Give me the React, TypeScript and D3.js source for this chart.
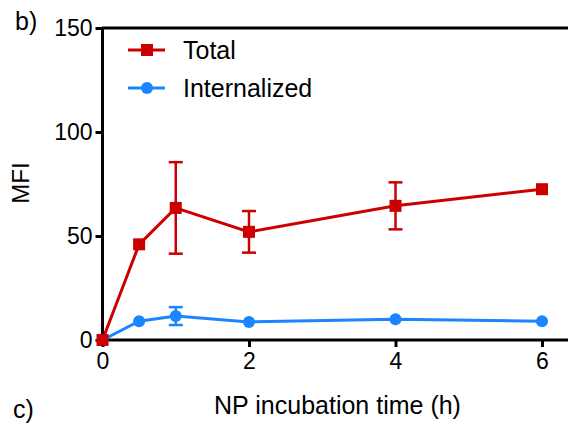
import React, { useEffect, useRef } from "react";
import * as d3 from "d3";

const times = [0, 0.5, 1, 2, 4, 6];
const totalMean = [0, 46, 63.5, 52, 64.5, 72.5];
const totalErr = [0, 0, 22, 10, 11.3, 0];
const internMean = [0, 9, 11.5, 8.7, 10, 9];
const internErr = [0, 0, 4.3, 0, 0, 0];
const xTicks = [0, 2, 4, 6];
const yTicks = [0, 50, 100, 150];

const RED = "#cc0000";
const BLUE = "#1a85ff";
const FONT = "'Liberation Sans', Arial, sans-serif";

const App = () => {
  const ref = useRef<SVGSVGElement>(null);

  useEffect(() => {
    drawChart();
  }, []);

  const drawChart = () => {
    const svg = d3.select(ref.current);
    svg.selectAll("*").remove();

    const x = d3.scaleLinear().domain([0, 6]).range([102.5, 542]);
    const y = d3.scaleLinear().domain([0, 150]).range([340, 28]);

    // top frame line
    svg.append("line")
      .attr("x1", 102).attr("x2", 568)
      .attr("y1", y(150)).attr("y2", y(150))
      .attr("stroke", "#000").attr("stroke-width", 3);

    const xAxis = svg.append("g")
      .attr("transform", `translate(0,${y(0)})`)
      .call(d3.axisBottom(x).tickValues(xTicks).tickSize(7).tickPadding(6).tickFormat(d3.format("d")));
    xAxis.select(".domain").attr("d", `M${x(0)},0H568`).attr("stroke-width", 3);

    const yAxis = svg.append("g")
      .attr("transform", `translate(${x(0)},0)`)
      .call(d3.axisLeft(y).tickValues(yTicks).tickSize(7).tickPadding(3).tickFormat(d3.format("d")));
    yAxis.select(".domain").attr("d", `M0,${y(150)}V${y(0)}`).attr("stroke-width", 3);

    [xAxis, yAxis].forEach((g) => {
      g.selectAll(".tick line").attr("stroke-width", 3);
      g.selectAll("text")
        .attr("font-family", FONT)
        .attr("font-size", 23)
        .attr("fill", "#000");
    });

    const series = [
      { mean: internMean, err: internErr, color: BLUE, shape: "circle" },
      { mean: totalMean, err: totalErr, color: RED, shape: "square" },
    ];

    series.forEach((s) => {
      const pts = times.map((t, i) => ({ t, m: s.mean[i], e: s.err[i] }));
      const line = d3.line<{ t: number; m: number }>()
        .x((d) => x(d.t))
        .y((d) => y(d.m));

      svg.append("path")
        .datum(pts)
        .attr("d", line)
        .attr("fill", "none")
        .attr("stroke", s.color)
        .attr("stroke-width", 3);

      const eb = svg.append("g").attr("stroke", s.color).attr("stroke-width", 2.5);
      pts.filter((d) => d.e > 0).forEach((d) => {
        const cx = x(d.t);
        eb.append("line").attr("x1", cx).attr("x2", cx).attr("y1", y(d.m - d.e)).attr("y2", y(d.m + d.e));
        [d.m - d.e, d.m + d.e].forEach((v) => {
          eb.append("line").attr("x1", cx - 7).attr("x2", cx + 7).attr("y1", y(v)).attr("y2", y(v));
        });
      });

      if (s.shape === "square") {
        svg.selectAll(null)
          .data(pts)
          .enter()
          .append("rect")
          .attr("x", (d) => x(d.t) - 6)
          .attr("y", (d) => y(d.m) - 6)
          .attr("width", 12)
          .attr("height", 12)
          .attr("fill", s.color);
      } else {
        svg.selectAll(null)
          .data(pts)
          .enter()
          .append("circle")
          .attr("cx", (d) => x(d.t))
          .attr("cy", (d) => y(d.m))
          .attr("r", 6)
          .attr("fill", s.color);
      }
    });

    // legend
    const legend = [
      { label: "Total", color: RED, shape: "square", yy: 50 },
      { label: "Internalized", color: BLUE, shape: "circle", yy: 88 },
    ];
    legend.forEach((l) => {
      svg.append("line")
        .attr("x1", 128).attr("x2", 165)
        .attr("y1", l.yy).attr("y2", l.yy)
        .attr("stroke", l.color).attr("stroke-width", 3);
      if (l.shape === "square") {
        svg.append("rect").attr("x", 141).attr("y", l.yy - 6).attr("width", 12).attr("height", 12).attr("fill", l.color);
      } else {
        svg.append("circle").attr("cx", 147).attr("cy", l.yy).attr("r", 6).attr("fill", l.color);
      }
      svg.append("text")
        .attr("x", 183).attr("y", l.yy + 8.5)
        .attr("font-family", FONT).attr("font-size", 25)
        .text(l.label);
    });

    svg.append("text")
      .attr("transform", `translate(29,183) rotate(-90)`)
      .attr("text-anchor", "middle")
      .attr("font-family", FONT).attr("font-size", 24)
      .text("MFI");

    svg.append("text")
      .attr("x", 337.5).attr("y", 414)
      .attr("text-anchor", "middle")
      .attr("font-family", FONT).attr("font-size", 25)
      .text("NP incubation time (h)");

    svg.append("text")
      .attr("x", 15).attr("y", 30)
      .attr("font-family", FONT).attr("font-size", 25)
      .text("b)");

    svg.append("text")
      .attr("x", 13).attr("y", 418)
      .attr("font-family", FONT).attr("font-size", 25)
      .text("c)");
  };

  return (
    <div>
      <svg ref={ref} width={568} height={428}
        style={{ position: "absolute", left: 0, top: 0, background: "#fff" }} />
    </div>
  );
};

export default App;
